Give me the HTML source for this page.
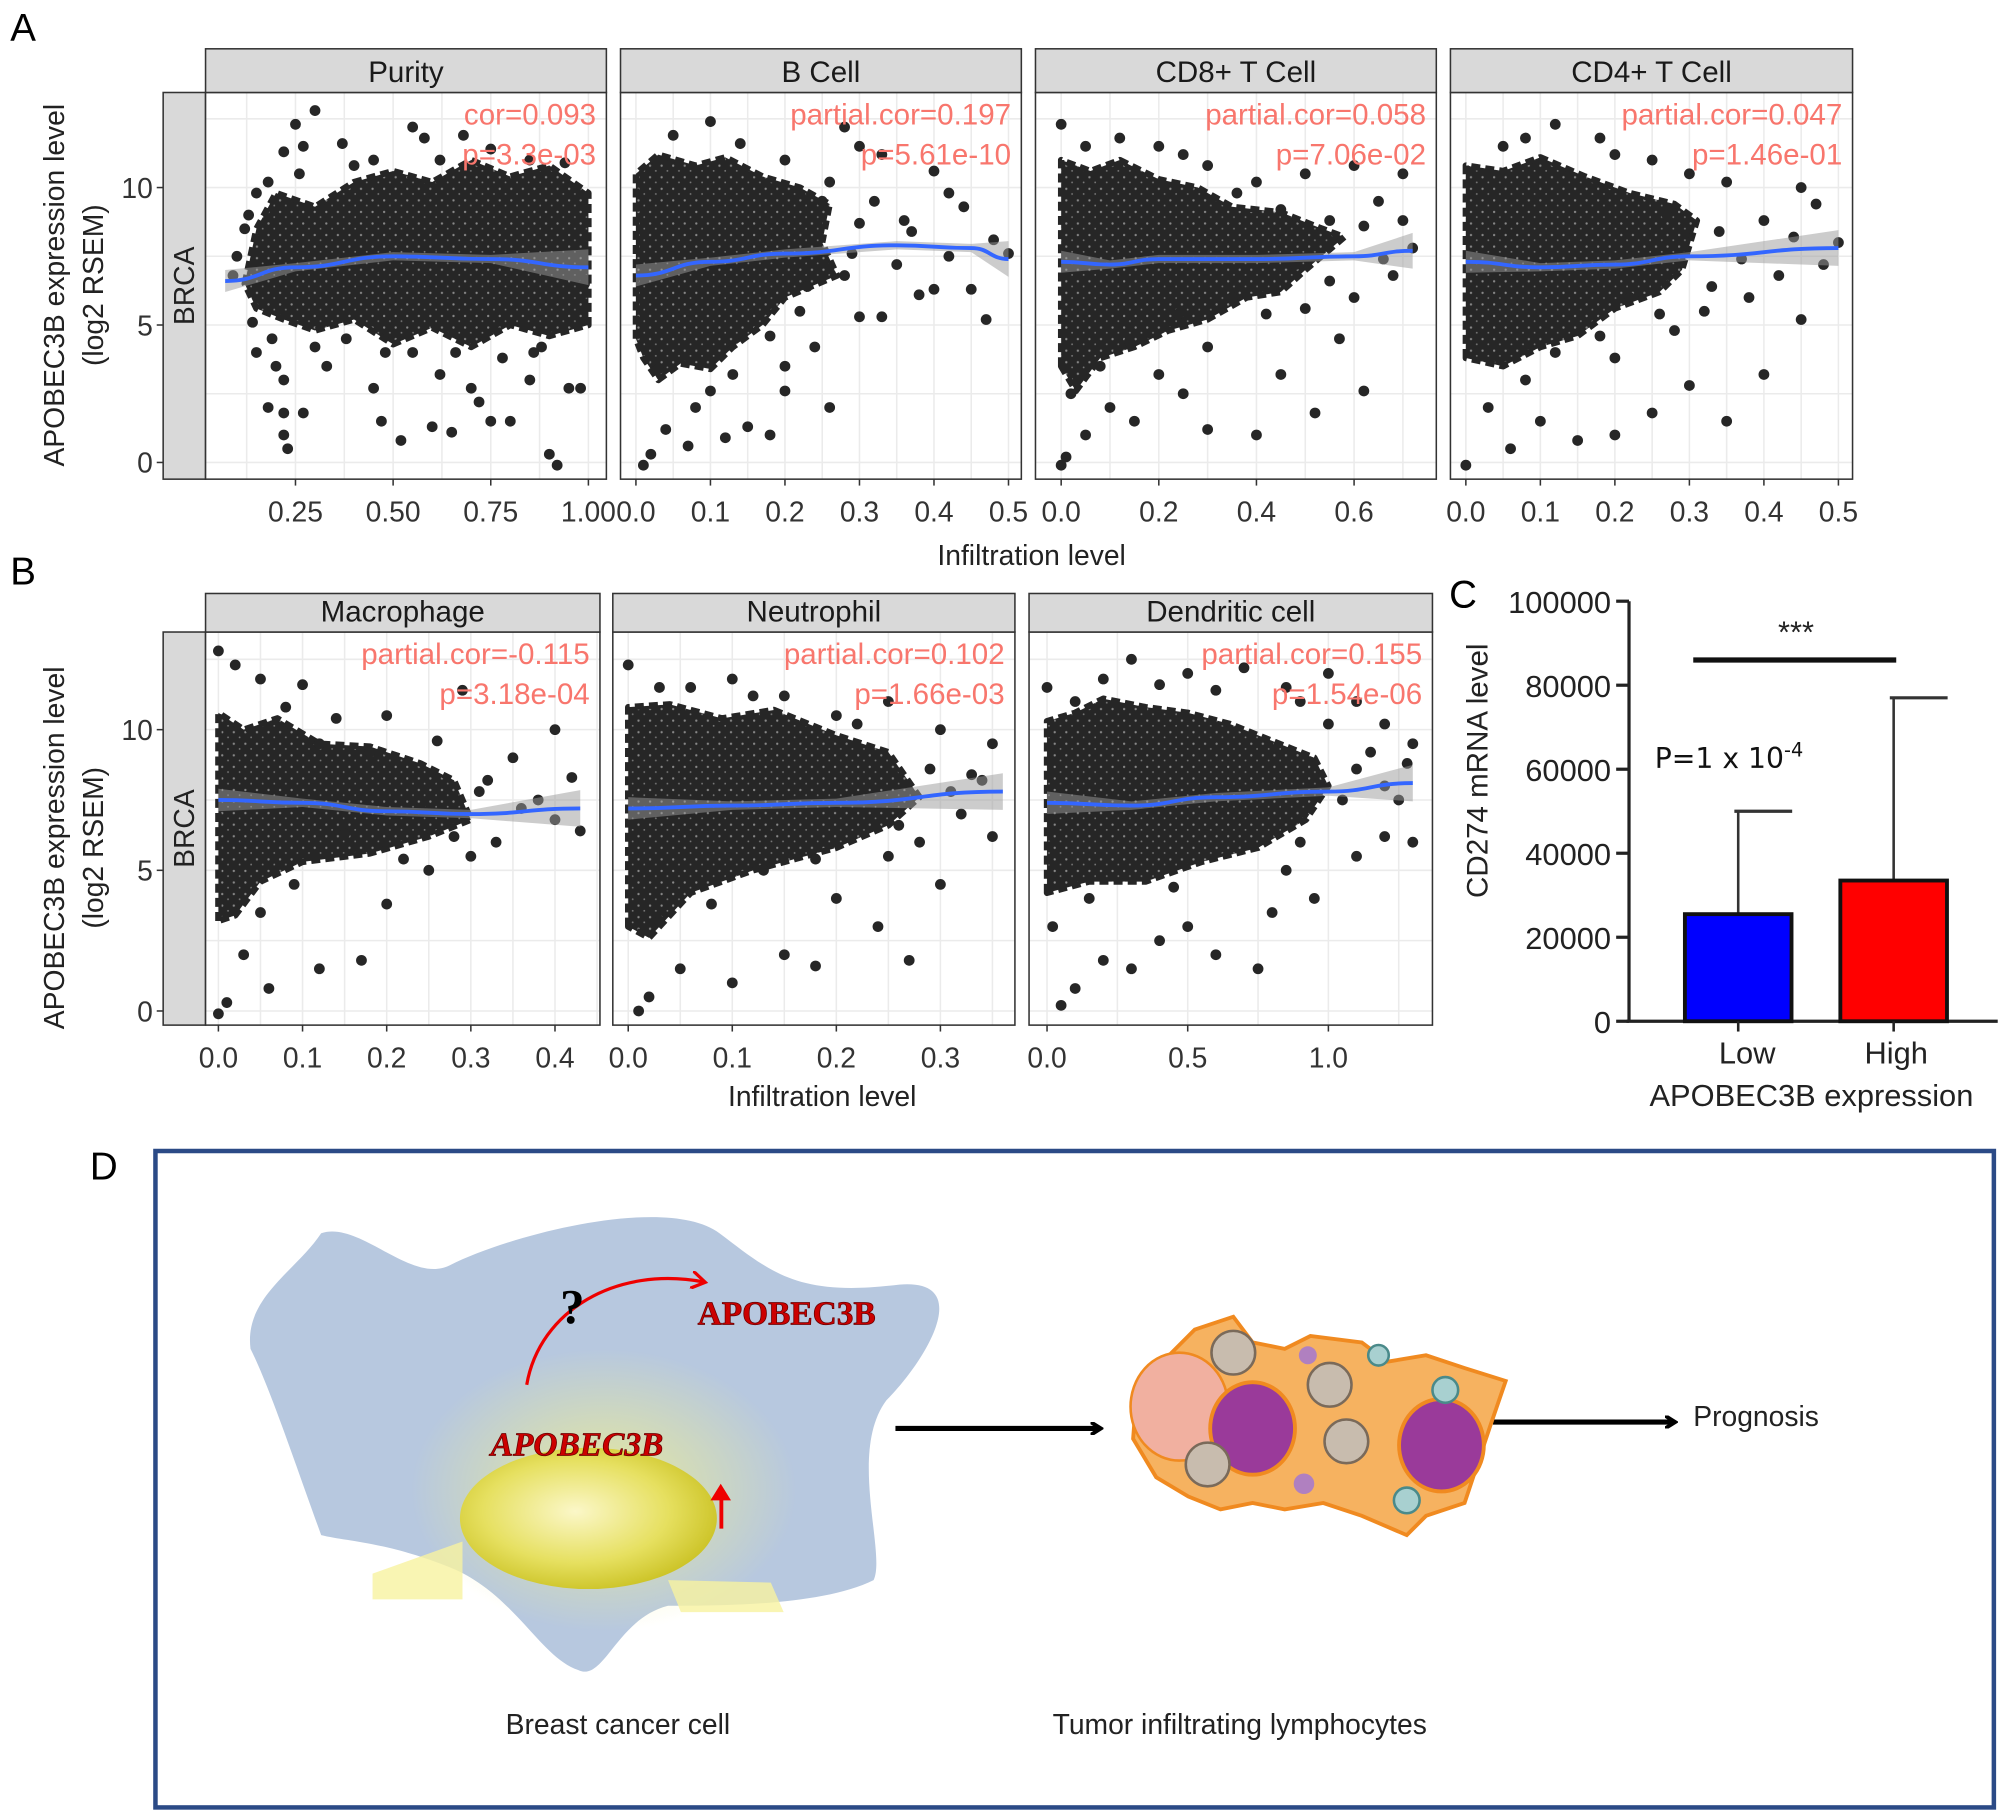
<!DOCTYPE html>
<html><head><meta charset="utf-8"><style>
html,body{margin:0;padding:0;background:#fff;}
svg{display:block;font-family:"Liberation Sans",sans-serif;}
</style></head><body>
<svg id="fig" xmlns="http://www.w3.org/2000/svg" width="2008" height="1819" viewBox="0 0 1563 1416" preserveAspectRatio="none">
<defs>
<radialGradient id="nuc" cx="0.45" cy="0.45" r="0.6"><stop offset="0" stop-color="#fbf7c8"/><stop offset="0.6" stop-color="#e6e060"/><stop offset="1" stop-color="#c9c020"/></radialGradient>
<radialGradient id="glow" cx="0.5" cy="0.5" r="0.5"><stop offset="0" stop-color="#f4f28a" stop-opacity="0.8"/><stop offset="1" stop-color="#f4f28a" stop-opacity="0"/></radialGradient>
<pattern id="speck" width="9" height="9" patternUnits="userSpaceOnUse"><rect width="9" height="9" fill="#262626"/><circle cx="2" cy="3" r="0.9" fill="#888"/><circle cx="6.5" cy="7" r="0.7" fill="#777"/></pattern>
<marker id="ah" markerWidth="10" markerHeight="10" refX="7" refY="5" orient="auto" markerUnits="userSpaceOnUse"><path d="M0,0 L8,5 L0,10" fill="none" stroke="#000" stroke-width="3"/></marker>
<marker id="ahr" markerWidth="14" markerHeight="14" refX="10" refY="7" orient="auto" markerUnits="userSpaceOnUse"><path d="M0,0 L11,7 L0,14" fill="none" stroke="#e00" stroke-width="2.5"/></marker>
</defs>
<g id="plots"></g>

<text x="8" y="32" font-size="30">A</text>
<text x="8" y="455" font-size="30">B</text>
<text x="1128" y="473" font-size="30">C</text>
<text x="70" y="918" font-size="30">D</text>

<text transform="translate(50,222) rotate(-90)" text-anchor="middle" font-size="22" fill="#222">APOBEC3B expression level</text>
<text transform="translate(80,222) rotate(-90)" text-anchor="middle" font-size="22" fill="#222">(log2 RSEM)</text>
<text transform="translate(50,660) rotate(-90)" text-anchor="middle" font-size="22" fill="#222">APOBEC3B expression level</text>
<text transform="translate(80,660) rotate(-90)" text-anchor="middle" font-size="22" fill="#222">(log2 RSEM)</text>
<text x="803" y="440" text-anchor="middle" font-size="22" fill="#222">Infiltration level</text>
<text x="640" y="861" text-anchor="middle" font-size="22" fill="#222">Infiltration level</text>

<g id="barc"></g>

<g>
<rect x="121" y="896" width="1431" height="511" fill="none" stroke="#2b4a86" stroke-width="3.5"/>
<path d="M250,960 C280,950 320,1000 350,985 C400,960 520,930 560,960 C600,990 620,1010 700,1000 C760,995 720,1060 690,1090 C660,1130 690,1210 680,1230 C640,1250 560,1250 520,1250 C480,1260 470,1310 450,1300 C420,1290 400,1240 350,1220 C300,1200 270,1200 250,1195 C230,1140 210,1080 195,1050 C190,1010 230,990 250,960 Z" fill="#b7c8df"/>
<ellipse cx="470" cy="1160" rx="150" ry="110" fill="url(#glow)"/>
<path d="M290,1225 L360,1200 L360,1245 L290,1245Z M520,1230 L600,1232 L610,1255 L530,1255Z" fill="#f8f3a0" opacity="0.8"/>
<ellipse cx="458" cy="1182" rx="100" ry="55" fill="url(#nuc)"/>
<path d="M410,1078 C420,1020 480,985 548,998" fill="none" stroke="#e00" stroke-width="2.5" marker-end="url(#ahr)"/>
<text x="436" y="1030" font-size="38" font-weight="bold" font-family="Liberation Serif,serif">?</text>
<text x="543" y="1031" font-size="26" font-weight="bold" fill="#c00" stroke="#600" stroke-width="0.6" font-family="Liberation Serif,serif">APOBEC3B</text>
<text x="382" y="1133" font-size="26" font-weight="bold" font-style="italic" fill="#c00" stroke="#600" stroke-width="0.6" font-family="Liberation Serif,serif">APOBEC3B</text>
<path d="M560,1190 L560,1168 L553,1168 L561,1155 L569,1168 L563,1168 L563,1190Z" fill="#e00"/>
<line x1="697" y1="1112" x2="856" y2="1112" stroke="#000" stroke-width="4" marker-end="url(#ah)"/>
<line x1="1162" y1="1107" x2="1303" y2="1107" stroke="#000" stroke-width="4" marker-end="url(#ah)"/>
<g>
<path d="M930,1035 L960,1025 L975,1045 L1000,1050 L1020,1040 L1060,1045 L1080,1060 L1110,1055 L1140,1065 L1172,1075 L1160,1110 L1150,1140 L1140,1170 L1110,1180 L1095,1195 L1060,1180 L1030,1170 L1000,1175 L975,1170 L950,1175 L925,1165 L900,1150 L882,1120 L885,1080 L905,1060Z" fill="#f6b260" stroke="#f08a20" stroke-width="3"/>
<ellipse cx="918" cy="1095" rx="38" ry="42" fill="#f1b0a0" stroke="#f08a20" stroke-width="2"/>
<ellipse cx="975" cy="1112" rx="33" ry="36" fill="#9a3a9a" stroke="#f08a20" stroke-width="3"/>
<ellipse cx="1122" cy="1125" rx="33" ry="36" fill="#9a3a9a" stroke="#f08a20" stroke-width="3"/>
<circle cx="960" cy="1053" r="17" fill="#c8bcae" stroke="#7a6a5a" stroke-width="2"/>
<circle cx="1035" cy="1078" r="17" fill="#c8bcae" stroke="#7a6a5a" stroke-width="2"/>
<circle cx="1048" cy="1122" r="17" fill="#c8bcae" stroke="#7a6a5a" stroke-width="2"/>
<circle cx="940" cy="1140" r="17" fill="#c8bcae" stroke="#7a6a5a" stroke-width="2"/>
<circle cx="1125" cy="1082" r="10" fill="#a8d0d0" stroke="#4a8a8a" stroke-width="2"/>
<circle cx="1095" cy="1168" r="10" fill="#a8d0d0" stroke="#4a8a8a" stroke-width="2"/>
<circle cx="1073" cy="1055" r="8" fill="#a8d0d0" stroke="#4a8a8a" stroke-width="2"/>
<circle cx="1018" cy="1055" r="7" fill="#b080c0"/>
<circle cx="1015" cy="1155" r="8" fill="#b080c0"/>
</g>
<text x="1318" y="1110" font-size="22" fill="#222">Prognosis</text>
<text x="481" y="1350" text-anchor="middle" font-size="22" fill="#222">Breast cancer cell</text>
<text x="965" y="1350" text-anchor="middle" font-size="22" fill="#222">Tumor infiltrating lymphocytes</text>
</g>
</svg>
<script>
const panelTitles = ["Purity","B Cell","CD8+ T Cell","CD4+ T Cell","Macrophage","Neutrophil","Dendritic cell"];
const corLabels = ["cor=0.093","partial.cor=0.197","partial.cor=0.058","partial.cor=0.047","partial.cor=-0.115","partial.cor=0.102","partial.cor=0.155"];
const pLabels = ["p=3.3e-03","p=5.61e-10","p=7.06e-02","p=1.46e-01","p=3.18e-04","p=1.66e-03","p=1.54e-06"];
const xTicks = [[0.25,0.5,0.75,1.0],[0,0.1,0.2,0.3,0.4,0.5],[0,0.2,0.4,0.6],[0,0.1,0.2,0.3,0.4,0.5],[0,0.1,0.2,0.3,0.4],[0,0.1,0.2,0.3],[0,0.5,1.0]];
const xTickLabels = [["0.25","0.50","0.75","1.00"],["0.0","0.1","0.2","0.3","0.4","0.5"],["0.0","0.2","0.4","0.6"],["0.0","0.1","0.2","0.3","0.4","0.5"],["0.0","0.1","0.2","0.3","0.4"],["0.0","0.1","0.2","0.3"],["0.0","0.5","1.0"]];
const yTicks = [0,5,10];
const yTickLabels = ["0","5","10"];
const densePurity = [[0.12,6.5],[0.15,8.5],[0.2,9.8],[0.3,9.3],[0.4,10.2],[0.5,10.6],[0.6,10.2],[0.7,11],[0.8,10.4],[0.9,10.8],[1.0,9.8],[1.0,5],[0.9,4.6],[0.8,5],[0.7,4.2],[0.6,4.9],[0.5,4.3],[0.4,5.2],[0.3,4.8],[0.22,5.2],[0.15,5.6]];
const denseBCell = [[0,4.5],[0,10.5],[0.03,11.2],[0.08,10.8],[0.12,11.1],[0.17,10.4],[0.22,10],[0.26,9.4],[0.25,8],[0.27,6.8],[0.2,6],[0.17,5],[0.13,4.2],[0.1,3.4],[0.06,3.6],[0.03,3],[0.01,3.8]];
const denseCD8 = [[0,3.5],[0,11],[0.06,10.6],[0.12,11],[0.2,10.3],[0.28,10],[0.35,9.3],[0.45,9.1],[0.52,8.6],[0.58,8.2],[0.5,7],[0.45,6.2],[0.38,6],[0.3,5.2],[0.22,4.8],[0.15,4.2],[0.08,3.8],[0.03,2.6]];
const denseCD4 = [[0,3.8],[0,10.8],[0.05,10.6],[0.1,11.1],[0.16,10.4],[0.22,9.8],[0.28,9.4],[0.31,8.8],[0.29,7],[0.26,6.2],[0.2,5.6],[0.15,4.6],[0.1,4.2],[0.05,3.5]];
const denseMacro = [[0,3.2],[0,10.6],[0.03,10],[0.07,10.4],[0.12,9.5],[0.18,9.4],[0.24,8.8],[0.28,8.2],[0.3,6.8],[0.25,6.2],[0.18,5.6],[0.1,5.3],[0.05,4.6],[0.02,3.4]];
const denseNeut = [[0,3],[0,10.8],[0.04,10.9],[0.09,10.4],[0.14,10.7],[0.2,9.8],[0.25,9.2],[0.28,7.6],[0.25,6.6],[0.2,5.8],[0.12,5],[0.06,4.2],[0.02,2.6]];
const denseDend = [[0,4.2],[0,10.3],[0.1,10.6],[0.2,11.1],[0.35,10.8],[0.5,10.6],[0.65,10.2],[0.8,9.6],[0.95,9],[1.0,8],[0.92,6.8],[0.75,5.8],[0.55,5.3],[0.35,4.6],[0.15,4.6]];
const ptsPurity = [[0.3,12.8],[0.25,12.3],[0.55,12.2],[0.22,11.3],[0.27,11.5],[0.37,11.6],[0.15,9.8],[0.12,8.5],[0.14,5.1],[0.15,4],[0.2,3.5],[0.22,3],[0.18,2],[0.22,1.8],[0.23,0.5],[0.22,1],[0.27,1.8],[0.33,3.5],[0.45,2.7],[0.47,1.5],[0.52,0.8],[0.6,1.3],[0.65,1.1],[0.7,2.7],[0.75,1.5],[0.8,1.5],[0.85,3],[0.9,0.3],[0.92,-0.1],[0.95,2.7],[0.62,3.2],[0.48,4],[0.38,4.5],[0.72,2.2],[0.78,3.8],[0.88,4.2],[0.98,2.7],[0.4,10.8],[0.58,11.8],[0.68,11.9],[0.85,11],[0.1,7.5],[0.09,6.8],[0.13,9],[0.18,10.2],[0.26,10.5],[0.45,11],[0.62,11],[0.75,11.4],[0.94,10.9],[0.99,6.5],[0.86,4],[0.55,4],[0.3,4.2],[0.19,4.5],[0.66,4]];
const ptsBCell = [[0.05,11.9],[0.1,12.4],[0.28,12.2],[0.3,11.5],[0.33,11.2],[0.4,10.6],[0.42,9.8],[0.44,9.3],[0.37,8.4],[0.3,8.7],[0.25,9.5],[0.35,7.2],[0.4,6.3],[0.45,6.3],[0.5,7.6],[0.47,5.2],[0.3,5.3],[0.33,5.3],[0.24,4.2],[0.26,2],[0.2,3.5],[0.2,2.6],[0.18,1],[0.12,0.9],[0.07,0.6],[0.02,0.3],[0.01,-0.1],[0.04,1.2],[0.1,2.6],[0.15,1.3],[0.22,5.5],[0.38,6.1],[0.28,6.8],[0.13,3.2],[0.08,2],[0.03,3.4],[0.32,9.5],[0.36,8.8],[0.29,7.6],[0.23,6.4],[0.18,4.6],[0.14,11.6],[0.2,11],[0.26,10.2],[0.42,7.5],[0.48,8.1]];
const ptsCD8 = [[0.0,12.3],[0.05,11.5],[0.12,11.8],[0.2,11.5],[0.3,10.8],[0.4,10.2],[0.5,10.5],[0.6,10.8],[0.7,10.5],[0.65,9.5],[0.55,8.8],[0.45,9.2],[0.72,7.8],[0.68,6.8],[0.6,6],[0.5,5.6],[0.42,5.4],[0.35,6],[0.62,2.6],[0.52,1.8],[0.4,1],[0.3,1.2],[0.25,2.5],[0.2,3.2],[0.15,1.5],[0.1,2],[0.05,1],[0.01,0.2],[0.0,-0.1],[0.02,2.5],[0.08,3.5],[0.3,4.2],[0.57,4.5],[0.45,3.2],[0.62,8.6],[0.66,7.4],[0.55,6.6],[0.48,7.2],[0.36,9.8],[0.25,11.2],[0.14,4.4],[0.24,5.4],[0.7,8.8]];
const ptsCD4 = [[0.05,11.5],[0.12,12.3],[0.18,11.8],[0.25,11],[0.3,10.5],[0.35,10.2],[0.45,10],[0.5,8],[0.48,7.2],[0.42,6.8],[0.38,6],[0.32,5.5],[0.28,4.8],[0.45,5.2],[0.4,3.2],[0.3,2.8],[0.25,1.8],[0.2,1],[0.15,0.8],[0.1,1.5],[0.06,0.5],[0.0,-0.1],[0.03,2],[0.08,3],[0.2,3.8],[0.35,1.5],[0.12,4],[0.22,6],[0.4,8.8],[0.27,9],[0.34,8.4],[0.37,7.4],[0.44,8.2],[0.33,6.4],[0.26,5.4],[0.2,11.2],[0.08,11.8],[0.47,9.4],[0.18,4.6]];
const ptsMacro = [[0.0,12.8],[0.02,12.3],[0.05,11.8],[0.1,11.6],[0.2,10.5],[0.29,11.4],[0.35,9],[0.4,10],[0.42,8.3],[0.38,7.5],[0.3,5.5],[0.28,6.2],[0.25,5],[0.2,3.8],[0.17,1.8],[0.12,1.5],[0.06,0.8],[0.03,2],[0.01,0.3],[0.0,-0.1],[0.05,3.5],[0.09,4.5],[0.33,6],[0.43,6.4],[0.15,6.3],[0.24,7.2],[0.18,9.2],[0.12,9.5],[0.32,8.2],[0.36,7.2],[0.26,9.6],[0.14,10.4],[0.08,10.8],[0.22,5.4],[0.4,6.8],[0.31,7.8]];
const ptsNeut = [[0.0,12.3],[0.03,11.5],[0.1,11.8],[0.15,11.2],[0.2,10.5],[0.25,11],[0.3,10],[0.35,9.5],[0.33,8.4],[0.28,6],[0.25,5.5],[0.3,4.5],[0.24,3],[0.2,4],[0.15,2],[0.1,1],[0.05,1.5],[0.02,0.5],[0.01,0],[0.03,3.2],[0.08,3.8],[0.13,5],[0.35,6.2],[0.32,7],[0.18,1.6],[0.27,1.8],[0.29,8.6],[0.31,7.8],[0.22,10.2],[0.12,11.2],[0.26,6.6],[0.18,5.4],[0.34,8.2],[0.06,11.5]];
const ptsDend = [[0.0,11.5],[0.1,11],[0.3,12.5],[0.5,12],[0.7,12.2],[0.85,11.5],[1.0,12],[1.1,11],[1.2,10.2],[1.3,9.5],[1.25,7.5],[1.2,6.2],[1.1,5.5],[0.95,4],[0.8,3.5],[0.75,1.5],[0.6,2],[0.5,3],[0.4,2.5],[0.3,1.5],[0.2,1.8],[0.1,0.8],[0.05,0.2],[0.02,3],[0.15,4],[1.3,6],[1.05,7.5],[0.9,6],[1.1,8.6],[1.15,9.2],[1.0,10.2],[0.9,11],[0.6,11.4],[0.4,11.6],[0.2,11.8],[1.2,8],[0.85,5],[0.45,4.4],[1.28,8.8]];
const fitPurity = [[0.07,6.6],[0.25,7.1],[0.5,7.5],[0.75,7.4],[1.0,7.1]];
const fitBCell = [[0,6.8],[0.1,7.3],[0.2,7.6],[0.35,7.9],[0.45,7.8],[0.5,7.4]];
const fitCD8 = [[0,7.3],[0.1,7.2],[0.2,7.4],[0.4,7.4],[0.6,7.5],[0.72,7.7]];
const fitCD4 = [[0,7.3],[0.1,7.1],[0.2,7.2],[0.3,7.5],[0.5,7.8]];
const fitMacro = [[0,7.5],[0.1,7.4],[0.2,7.1],[0.3,7.0],[0.43,7.2]];
const fitNeut = [[0,7.2],[0.1,7.3],[0.2,7.4],[0.36,7.8]];
const fitDend = [[0,7.4],[0.3,7.3],[0.6,7.6],[1.0,7.8],[1.3,8.1]];
const denseAll = [densePurity,denseBCell,denseCD8,denseCD4,denseMacro,denseNeut,denseDend];
const ptsAll = [ptsPurity,ptsBCell,ptsCD8,ptsCD4,ptsMacro,ptsNeut,ptsDend];
const fitAll = [fitPurity,fitBCell,fitCD8,fitCD4,fitMacro,fitNeut,fitDend];
const barCats = ["Low","High"];
const barVals = [25500,33500];
const barErr = [50000,77000];
const barColors = ["#0000ff","#ff0000"];
const cTicks = [0,20000,40000,60000,80000,100000];

const NS="http://www.w3.org/2000/svg";
function mk(tag,attrs,parent){const e=document.createElementNS(NS,tag);for(const k in attrs)e.setAttribute(k,attrs[k]);parent.appendChild(e);return e;}

const layout=[
 [160,472,72,373,230-0.25*304,304,360,21.4,38],
 [483,795,72,373,495,580,360,21.4,38],
 [806,1118,72,373,826,380,360,21.4,38],
 [1129,1442,72,373,1141,580,360,21.4,38],
 [160,467,492,798,170,655,787,21.9,462],
 [477,790,492,798,489,810,787,21.9,462],
 [801,1115,492,798,815,219,787,21.9,462]
];
const root=document.getElementById('plots');
[[72,373],[492,798]].forEach((r,i)=>{
 const s=mk('rect',{x:127,y:r[0],width:33,height:r[1]-r[0],fill:'#d9d9d9',stroke:'#333','stroke-width':1.2},root);
 
 
 const t=mk('text',{transform:`translate(151,${(r[0]+r[1])/2}) rotate(-90)`,'text-anchor':'middle','font-size':22,fill:'#222'},root);
 t.textContent='BRCA';
 
 
});
layout.forEach((L,i)=>{
 const [l,r,t,b,x0,kx,y0,ky,st]=L;
 const X=v=>x0+v*kx, Y=v=>y0-v*ky;
 const g=mk('g',{},root);
 
 
 const cp='clip'+i;
 const c=mk('clipPath',{id:cp},g); mk('rect',{x:l,y:t,width:r-l,height:b-t},c);
 mk('rect',{x:l,y:t,width:r-l,height:b-t,fill:'#fff'},g);
 const xt=xTicks[i], step=xt[1]-xt[0];
 for(let v=xt[0]-step*1.5; v<=xt[xt.length-1]+step*1.5; v+=step/2){
   const px=X(v); if(px<l||px>r) continue;
   mk('line',{x1:px,x2:px,y1:t,y2:b,stroke:'#ebebeb','stroke-width':1.2},g);
 }
 for(let v=-2.5; v<=15; v+=2.5){const py=Y(v); if(py<t||py>b) continue; mk('line',{x1:l,x2:r,y1:py,y2:py,stroke:'#ebebeb','stroke-width':1.2},g);}
 const cg=mk('g',{'clip-path':`url(#${cp})`},g);
 const poly=mk('polygon',{points:denseAll[i].map(p=>X(p[0])+','+Y(p[1])).join(' '),fill:'url(#speck)',stroke:'#262626','stroke-width':5,'stroke-linejoin':'round','stroke-dasharray':'7 4'},cg);
 
 
 ptsAll[i].forEach(p=>{
   const d=mk('circle',{cx:X(p[0]),cy:Y(p[1]),r:4.2,fill:'#262626'},cg);
   
   
 });
 const f=fitAll[i], n=f.length;
 const w=j=> 0.15 + (j===n-1?0.5:0) + (j===0?0.25:0);
 const band=mk('polygon',{points:f.map((p,j)=>X(p[0])+','+Y(p[1]+w(j))).concat(f.map((p,j)=>X(p[0])+','+Y(p[1]-w(j))).reverse()).join(' '),fill:'#9a9a9a',opacity:0.5},cg);
 
 
 let d='M'+X(f[0][0])+','+Y(f[0][1]);
 for(let j=1;j<n;j++){const p0=f[j-1],p1=f[j];const mx=(X(p0[0])+X(p1[0]))/2;d+=` C${mx},${Y(p0[1])} ${mx},${Y(p1[1])} ${X(p1[0])},${Y(p1[1])}`;}
 const fl=mk('path',{d:d,fill:'none',stroke:'#3366ff','stroke-width':3},cg);
 
 
 mk('rect',{x:l,y:t,width:r-l,height:b-t,fill:'none',stroke:'#333','stroke-width':1.2},g);
 const sr=mk('rect',{x:l,y:st,width:r-l,height:t-st,fill:'#d9d9d9',stroke:'#333','stroke-width':1.2},g);
 
 
 const stt=mk('text',{x:(l+r)/2,y:t-8,'text-anchor':'middle','font-size':23,fill:'#1a1a1a'},g);
 stt.textContent=panelTitles[i];
 
 
 const a1=mk('text',{x:r-8,y:t+25,'text-anchor':'end','font-size':23,fill:'#f8766d'},g);
 a1.textContent=corLabels[i];
 
 
 const a2=mk('text',{x:r-8,y:t+56,'text-anchor':'end','font-size':23,fill:'#f8766d'},g);
 a2.textContent=pLabels[i];
 
 
 xt.forEach((v,k)=>{
   mk('line',{x1:X(v),x2:X(v),y1:b,y2:b+5,stroke:'#333','stroke-width':1.2},g);
   const tl=mk('text',{x:X(v),y:b+33,'text-anchor':'middle','font-size':22,fill:'#333'},g);
   tl.textContent=xTickLabels[i][k];
   
   
 });
 if(i===0||i===4){
   yTicks.forEach((v,k)=>{
     mk('line',{x1:122,x2:127,y1:Y(v),y2:Y(v),stroke:'#333','stroke-width':1.2},g);
     const tl=mk('text',{x:119,y:Y(v)+8,'text-anchor':'end','font-size':22,fill:'#333'},g);
     tl.textContent=yTickLabels[k];
     
     
   });
 }
});

const bc=document.getElementById('barc');
const CY=v=>795-v*0.00327;
const barX=[1353,1474], barW=83;
mk('line',{x1:1268,x2:1268,y1:CY(100000),y2:796,stroke:'#222','stroke-width':2.5},bc);
mk('line',{x1:1266,x2:1555,y1:795,y2:795,stroke:'#222','stroke-width':2.5},bc);
cTicks.forEach(v=>{
 mk('line',{x1:1258,x2:1268,y1:CY(v),y2:CY(v),stroke:'#222','stroke-width':2.5},bc);
 const t=mk('text',{x:1254,y:CY(v)+9,'text-anchor':'end','font-size':24,fill:'#222'},bc);
 t.textContent=String(v);
 
 
});
barCats.forEach((c,i)=>{
 const cx=barX[i];
 const e=mk('line',{x1:cx,x2:cx,y1:CY(barErr[i]),y2:CY(barVals[i]),stroke:'#333','stroke-width':2},bc);
 
 
 mk('line',{x1:cx-3,x2:cx+42,y1:CY(barErr[i]),y2:CY(barErr[i]),stroke:'#333','stroke-width':2.5},bc);
 const r=mk('rect',{x:cx-barW/2,y:CY(barVals[i]),width:barW,height:795-CY(barVals[i]),fill:barColors[i],stroke:'#111','stroke-width':3},bc);
 
 
 mk('line',{x1:cx,x2:cx,y1:795,y2:803,stroke:'#222','stroke-width':2},bc);
 const t=mk('text',{x:cx+(i?2:7),y:828,'text-anchor':'middle','font-size':24,fill:'#222'},bc);
 t.textContent=c;
 
 
});
const sig=mk('line',{x1:1318,x2:1476,y1:CY(86000),y2:CY(86000),stroke:'#111','stroke-width':4},bc);


const st=mk('text',{x:1398,y:500,'text-anchor':'middle','font-size':24,fill:'#222'},bc);
st.textContent='***';


const pt=mk('text',{x:1288,y:598,'font-size':22,fill:'#111','font-family':'DejaVu Sans, sans-serif'},bc);
pt.innerHTML='P=1 x 10<tspan dy="-9" font-size="15">-4</tspan>';


const yl=mk('text',{transform:'translate(1158,600) rotate(-90)','text-anchor':'middle','font-size':23,fill:'#222'},bc);
yl.textContent='CD274 mRNA level';


const xl=mk('text',{x:1410,y:861,'text-anchor':'middle','font-size':24,fill:'#222'},bc);
xl.textContent='APOBEC3B expression';


</script>
</body></html>
